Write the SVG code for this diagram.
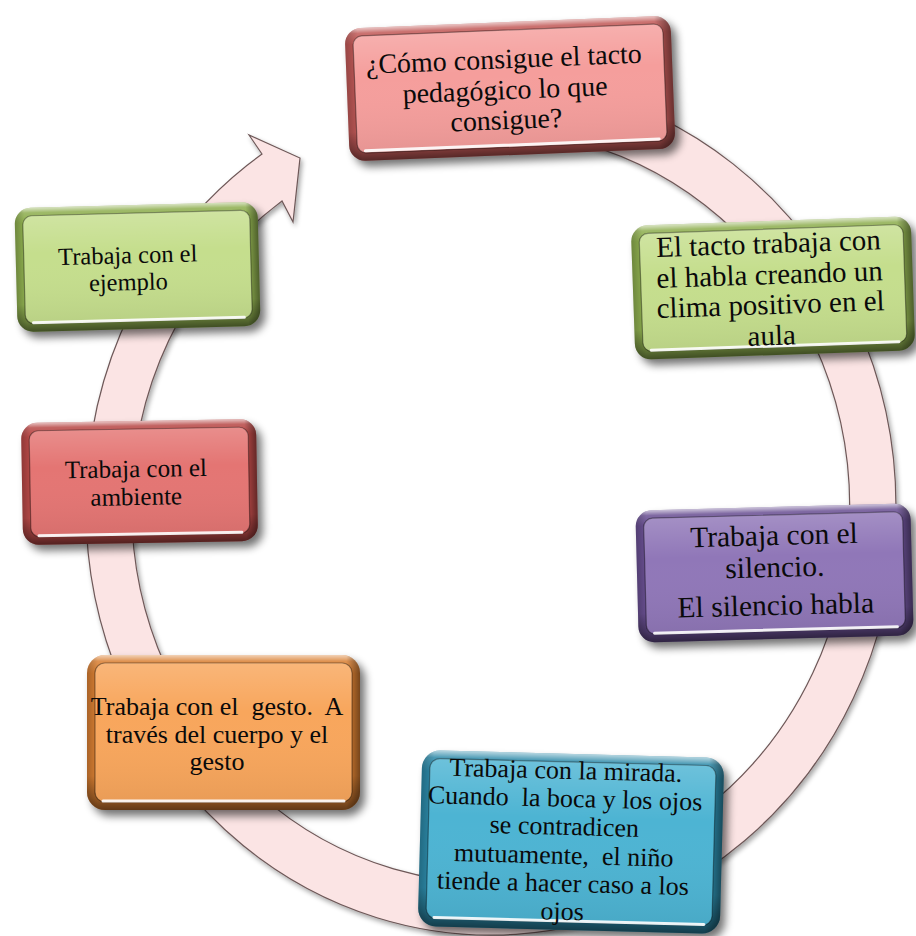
<svg xmlns="http://www.w3.org/2000/svg" width="916" height="936" viewBox="0 0 916 936">
  <defs>
    <filter id="soft" x="-10%" y="-10%" width="130%" height="140%">
      <feGaussianBlur stdDeviation="4"/>
    </filter>
    <filter id="ringShadow" x="-5%" y="-5%" width="110%" height="110%">
      <feGaussianBlur in="SourceAlpha" stdDeviation="2.5"/>
      <feOffset dx="2" dy="3" result="b"/>
      <feComponentTransfer><feFuncA type="linear" slope="0.35"/></feComponentTransfer>
      <feMerge><feMergeNode/><feMergeNode in="SourceGraphic"/></feMerge>
    </filter>
    <!-- bevel shading shared by all boxes -->
    <linearGradient id="bevelV" x1="0" y1="0" x2="0" y2="1">
      <stop offset="0" stop-color="#fff" stop-opacity="0.65"/>
      <stop offset="0.04" stop-color="#fff" stop-opacity="0.15"/>
      <stop offset="0.12" stop-color="#fff" stop-opacity="0"/>
      <stop offset="0.78" stop-color="#000" stop-opacity="0"/>
      <stop offset="0.92" stop-color="#000" stop-opacity="0.3"/>
      <stop offset="1" stop-color="#000" stop-opacity="0.55"/>
    </linearGradient>
    <linearGradient id="bevelH" x1="0" y1="0" x2="1" y2="0">
      <stop offset="0" stop-color="#000" stop-opacity="0.22"/>
      <stop offset="0.04" stop-color="#000" stop-opacity="0"/>
      <stop offset="0.95" stop-color="#000" stop-opacity="0"/>
      <stop offset="1" stop-color="#000" stop-opacity="0.45"/>
    </linearGradient>
    <linearGradient id="faceG" x1="0" y1="0" x2="0" y2="1">
      <stop offset="0" stop-color="#fff" stop-opacity="0.18"/>
      <stop offset="0.35" stop-color="#fff" stop-opacity="0"/>
      <stop offset="1" stop-color="#000" stop-opacity="0.06"/>
    </linearGradient>
  </defs>
  <style>
    .shadow { fill: #000; opacity: 0.55; filter: url(#soft); }
    .bev { fill: url(#bevelV); }
    .bevh { fill: url(#bevelH); }
    .face { stroke: #000; stroke-opacity: 0.4; stroke-width: 1.2; }
    .gloss { fill: url(#faceG); }
    .hl { stroke: #fff; stroke-width: 3; stroke-linecap: round; opacity: 0.9; }
    .red1-e { fill: #c25a58; } .red1-f { fill: #f59e9c; }
    .grn-e { fill: #8eae4f; } .grn-f { fill: #c5de8d; }
    .red2-e { fill: #b84947; } .red2-f { fill: #e47573; }
    .pur-e { fill: #6a5093; } .pur-f { fill: #9077b8; }
    .cyn-e { fill: #2c89a8; } .cyn-f { fill: #4db4d3; }
    .org-e { fill: #d97f32; } .org-f { fill: #f8a65c; }
    text { font-family: "Liberation Serif", "Times New Roman", serif; fill: #0a0a0a; text-anchor: middle; }
    .ring { fill: #fbe4e4; stroke: #6e5858; stroke-width: 1.2; }
  </style>

  <!-- circular connector arrow behind the boxes -->
  <g id="connectors">
    <path class="ring" filter="url(#ringShadow)" d="M575.2,88.4 A405,428 0 1 1 262,154 L249,135 L300,158 L293,222 L282,201 A359,376 0 1 0 565.6,139.2 Z"/>
  </g>

  <!-- top question box -->
  <g id="n-pregunta" transform="rotate(-2.3 510 88)">
    <rect class="shadow" x="352" y="28" width="326" height="133" rx="16"/>
    <rect class="red1-e" x="347" y="22" width="326" height="133" rx="16"/>
    <rect class="bev" x="347" y="22" width="326" height="133" rx="16"/>
    <rect class="bevh" x="347" y="22" width="326" height="133" rx="16"/>
    <rect class="face red1-f" x="355" y="30" width="310" height="117" rx="9"/>
    <rect class="gloss" x="355" y="30" width="310" height="117" rx="9"/>
    <line class="hl" x1="363" y1="145" x2="657" y2="145"/>
    <text font-size="28" x="505" y="68">¿Cómo consigue el tacto</text>
    <text font-size="28" x="505" y="99">pedagógico lo que</text>
    <text font-size="28" x="505" y="129">consigue?</text>
  </g>

  <!-- right: speech -->
  <g id="n-habla" transform="rotate(-2 773 288)">
    <rect class="shadow" x="638" y="227" width="280" height="134" rx="16"/>
    <rect class="grn-e" x="633" y="221" width="280" height="134" rx="16"/>
    <rect class="bev" x="633" y="221" width="280" height="134" rx="16"/>
    <rect class="bevh" x="633" y="221" width="280" height="134" rx="16"/>
    <rect class="face grn-f" x="641" y="229" width="264" height="118" rx="9"/>
    <rect class="gloss" x="641" y="229" width="264" height="118" rx="9"/>
    <line class="hl" x1="649" y1="346" x2="897" y2="346"/>
    <text font-size="29" x="770" y="253">El tacto trabaja con</text>
    <text font-size="29" x="770" y="284">el habla creando un</text>
    <text font-size="29" x="770" y="314">clima positivo en el</text>
    <text font-size="29" x="770" y="345">aula</text>
  </g>

  <!-- right: silence -->
  <g id="n-silencio" transform="rotate(-1.5 774.5 573)">
    <rect class="shadow" x="642" y="513" width="275" height="132" rx="16"/>
    <rect class="pur-e" x="637" y="507" width="275" height="132" rx="16"/>
    <rect class="bev" x="637" y="507" width="275" height="132" rx="16"/>
    <rect class="bevh" x="637" y="507" width="275" height="132" rx="16"/>
    <rect class="face pur-f" x="645" y="515" width="259" height="116" rx="9"/>
    <rect class="gloss" x="645" y="515" width="259" height="116" rx="9"/>
    <line class="hl" x1="653" y1="630" x2="896" y2="630"/>
    <text font-size="29.5" x="775" y="545">Trabaja con el</text>
    <text font-size="29.5" x="775" y="577">silencio.</text>
    <text font-size="29.5" x="775" y="615">El silencio habla</text>
  </g>

  <!-- bottom: gaze -->
  <g id="n-mirada" transform="rotate(1.5 571 842)">
    <rect class="shadow" x="425" y="760" width="302" height="176" rx="18"/>
    <rect class="cyn-e" x="420" y="754" width="302" height="176" rx="18"/>
    <rect class="bev" x="420" y="754" width="302" height="176" rx="18"/>
    <rect class="bevh" x="420" y="754" width="302" height="176" rx="18"/>
    <rect class="face cyn-f" x="428" y="762" width="286" height="160" rx="10"/>
    <rect class="gloss" x="428" y="762" width="286" height="160" rx="10"/>
    <line class="hl" x1="436" y1="921" x2="706" y2="921"/>
    <text font-size="26" x="564" y="779" xml:space="preserve">Trabaja con la mirada.</text>
    <text font-size="26" x="564" y="807" xml:space="preserve">Cuando  la boca y los ojos</text>
    <text font-size="26" x="564" y="835" xml:space="preserve">se contradicen</text>
    <text font-size="26" x="564" y="864" xml:space="preserve">mutuamente,  el niño</text>
    <text font-size="26" x="564" y="892" xml:space="preserve">tiende a hacer caso a los</text>
    <text font-size="26" x="564" y="920" xml:space="preserve">ojos</text>
  </g>

  <!-- bottom left: gesture -->
  <g id="n-gesto">
    <rect class="shadow" x="92" y="661" width="273" height="155" rx="18"/>
    <rect class="org-e" x="87" y="655" width="273" height="155" rx="18"/>
    <rect class="bev" x="87" y="655" width="273" height="155" rx="18"/>
    <rect class="bevh" x="87" y="655" width="273" height="155" rx="18"/>
    <rect class="face org-f" x="95" y="663" width="257" height="139" rx="10"/>
    <rect class="gloss" x="95" y="663" width="257" height="139" rx="10"/>
    <line class="hl" x1="103" y1="801" x2="344" y2="801"/>
    <text font-size="26" x="217" y="715" xml:space="preserve">Trabaja con el  gesto.  A</text>
    <text font-size="26" x="217" y="743" xml:space="preserve">través del cuerpo y el</text>
    <text font-size="26" x="217" y="770" xml:space="preserve">gesto</text>
  </g>

  <!-- left: environment -->
  <g id="n-ambiente" transform="rotate(-1 139.5 482)">
    <rect class="shadow" x="27" y="427" width="235" height="122" rx="16"/>
    <rect class="red2-e" x="22" y="421" width="235" height="122" rx="16"/>
    <rect class="bev" x="22" y="421" width="235" height="122" rx="16"/>
    <rect class="bevh" x="22" y="421" width="235" height="122" rx="16"/>
    <rect class="face red2-f" x="30" y="429" width="219" height="106" rx="9"/>
    <rect class="gloss" x="30" y="429" width="219" height="106" rx="9"/>
    <line class="hl" x1="38" y1="534" x2="241" y2="534"/>
    <text font-size="25" x="136" y="477">Trabaja con el</text>
    <text font-size="25" x="136" y="505">ambiente</text>
  </g>

  <!-- left: example -->
  <g id="n-ejemplo" transform="rotate(-1.5 137.5 267)">
    <rect class="shadow" x="21" y="211" width="243" height="124" rx="16"/>
    <rect class="grn-e" x="16" y="205" width="243" height="124" rx="16"/>
    <rect class="bev" x="16" y="205" width="243" height="124" rx="16"/>
    <rect class="bevh" x="16" y="205" width="243" height="124" rx="16"/>
    <rect class="face grn-f" x="24" y="213" width="227" height="108" rx="9"/>
    <rect class="gloss" x="24" y="213" width="227" height="108" rx="9"/>
    <line class="hl" x1="32" y1="320" x2="243" y2="320"/>
    <text font-size="24.5" x="128" y="263">Trabaja con el</text>
    <text font-size="24.5" x="128" y="290">ejemplo</text>
  </g>
</svg>
